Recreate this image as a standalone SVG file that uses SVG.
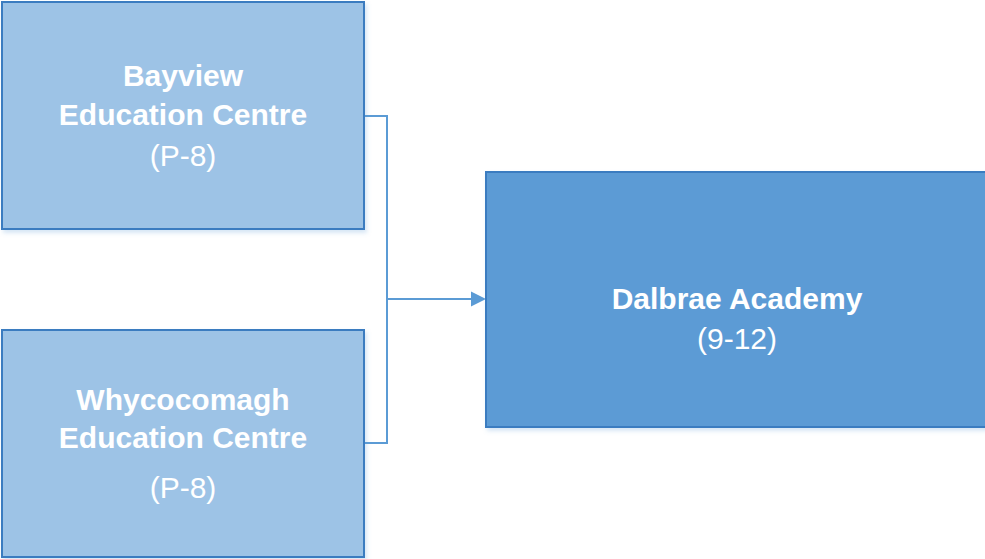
<svg xmlns="http://www.w3.org/2000/svg" width="985" height="559" viewBox="0 0 985 559">
<style>
.light{fill:#9DC3E6;stroke:#3A7CC0;stroke-width:2}
.dark{fill:#5B9BD5;stroke:#3A7CC0;stroke-width:2}
.b{font-family:"Liberation Sans",Arial,sans-serif;font-weight:bold;font-size:30px;fill:#fff;text-anchor:middle}
.r{font-family:"Liberation Sans",Arial,sans-serif;font-size:30px;fill:#fff;text-anchor:middle}
.conn{fill:none;stroke:#5B9BD5;stroke-width:2}
</style>
<defs>
<marker id="arr" markerWidth="8" markerHeight="8" refX="7.5" refY="4" orient="auto" markerUnits="userSpaceOnUse" viewBox="0 0 8 8">
<path d="M0,0 L8,4 L0,8 Z" fill="#5B9BD5"/>
</marker>
<filter id="sh" x="-5%" y="-5%" width="115%" height="115%">
<feDropShadow dx="2" dy="3" stdDeviation="2" flood-color="#5B9BD5" flood-opacity="0.25"/>
</filter>
</defs>
<g id="connectors">
<polyline class="conn" points="364,116 387,116 387,443 364,443"/>
<line class="conn" x1="387" y1="299" x2="471" y2="299"/>
<path d="M471,291.5 L486,299 L471,306.5 Z" fill="#5B9BD5"/>
</g>
<g id="bayview">
<rect class="light" x="2" y="2" width="362" height="227" filter="url(#sh)"/>
<text class="b" x="183" y="86">Bayview</text>
<text class="b" x="183" y="125">Education Centre</text>
<text class="r" x="183" y="166">(P-8)</text>
</g>
<g id="whycocomagh">
<rect class="light" x="2" y="330" width="362" height="227" filter="url(#sh)"/>
<text class="b" x="183" y="410">Whycocomagh</text>
<text class="b" x="183" y="448">Education Centre</text>
<text class="r" x="183" y="498">(P-8)</text>
</g>
<g id="dalbrae">
<rect class="dark" x="486" y="172" width="505" height="255" filter="url(#sh)"/>
<text class="b" x="737" y="309">Dalbrae Academy</text>
<text class="r" x="737" y="349">(9-12)</text>
</g>
</svg>
